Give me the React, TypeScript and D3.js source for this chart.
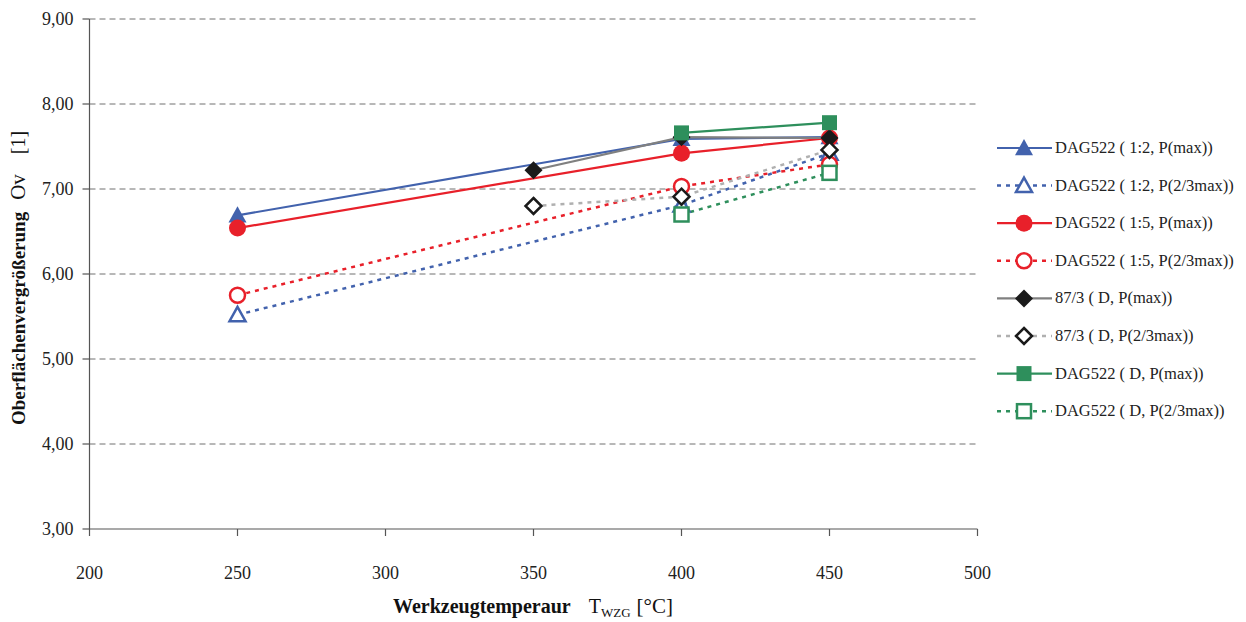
import React from "react";
import * as d3 from "d3";

const xTicks = [200, 250, 300, 350, 400, 450, 500];
const yTicks = [3, 4, 5, 6, 7, 8, 9];

const s1x = [250, 400, 450];
const s1y = [6.69, 7.59, 7.61];
const s2x = [250, 400, 450];
const s2y = [5.52, 6.81, 7.42];
const s3x = [250, 400, 450];
const s3y = [6.54, 7.42, 7.6];
const s4x = [250, 400, 450];
const s4y = [5.75, 7.03, 7.29];
const s5x = [350, 400, 450];
const s5y = [7.22, 7.61, 7.6];
const s6x = [350, 400, 450];
const s6y = [6.8, 6.91, 7.46];
const s7x = [400, 450];
const s7y = [7.66, 7.78];
const s8x = [400, 450];
const s8y = [6.7, 7.19];

const names = [
  "DAG522 ( 1:2, P(max))",
  "DAG522 ( 1:2, P(2/3max))",
  "DAG522 ( 1:5, P(max))",
  "DAG522 ( 1:5, P(2/3max))",
  "87/3 ( D, P(max))",
  "87/3 ( D, P(2/3max))",
  "DAG522 ( D, P(max))",
  "DAG522 ( D, P(2/3max))",
];

type Series = {
  name: string;
  xs: number[];
  ys: number[];
  color: string;
  markColor: string;
  dotted: boolean;
  marker: "tri" | "circle" | "diamond" | "square";
  filled: boolean;
};

const BLUE = "#4262ad";
const RED = "#e8202a";
const GRAY = "#808080";
const LGRAY = "#b0b0b0";
const BLACK = "#1a1a1a";
const GREEN = "#2e8f5c";

const series: Series[] = [
  { name: names[0], xs: s1x, ys: s1y, color: BLUE, markColor: BLUE, dotted: false, marker: "tri", filled: true },
  { name: names[1], xs: s2x, ys: s2y, color: BLUE, markColor: BLUE, dotted: true, marker: "tri", filled: false },
  { name: names[2], xs: s3x, ys: s3y, color: RED, markColor: RED, dotted: false, marker: "circle", filled: true },
  { name: names[3], xs: s4x, ys: s4y, color: RED, markColor: RED, dotted: true, marker: "circle", filled: false },
  { name: names[4], xs: s5x, ys: s5y, color: GRAY, markColor: BLACK, dotted: false, marker: "diamond", filled: true },
  { name: names[5], xs: s6x, ys: s6y, color: LGRAY, markColor: BLACK, dotted: true, marker: "diamond", filled: false },
  { name: names[6], xs: s7x, ys: s7y, color: GREEN, markColor: GREEN, dotted: false, marker: "square", filled: true },
  { name: names[7], xs: s8x, ys: s8y, color: GREEN, markColor: GREEN, dotted: true, marker: "square", filled: false },
];

const FONT = "Liberation Serif, Times New Roman, Times, DejaVu Serif, serif";

function Marker({ s, x, y }: { s: Series; x: number; y: number }) {
  const fill = s.filled ? s.markColor : "#fff";
  const sw = s.filled ? 0 : 2.5;
  const common = { fill, stroke: s.markColor, strokeWidth: sw };
  if (s.marker === "circle") return <circle cx={x} cy={y} r={s.filled ? 8.5 : 7.5} {...common} />;
  if (s.marker === "square") {
    const h = s.filled ? 7.5 : 7;
    return <rect x={x - h} y={y - h} width={2 * h} height={2 * h} {...common} />;
  }
  if (s.marker === "diamond") {
    const h = s.filled ? 9 : 8;
    return <path d={`M${x},${y - h}L${x + h},${y}L${x},${y + h}L${x - h},${y}Z`} {...common} />;
  }
  const h = s.filled ? 9 : 8;
  return <path d={`M${x},${y - h}L${x + h},${y + h * 0.8}L${x - h},${y + h * 0.8}Z`} {...common} />;
}

export default function App() {
  const x = d3.scaleLinear().domain([200, 500]).range([89.5, 977.5]);
  const y = d3.scaleLinear().domain([3, 9]).range([529, 19]);
  const line = d3
    .line<[number, number]>()
    .x((d) => x(d[0]))
    .y((d) => y(d[1]));

  const legX = 997;
  const legY0 = 148;
  const legStep = 37.6;

  return (
    <svg
      width={1246}
      height={622}
      style={{ position: "absolute", left: 0, top: 0, background: "#fff", fontFamily: FONT }}
    >
      <rect width={1246} height={622} fill="#fff" />
      {yTicks.slice(1).map((t) => (
        <line
          key={"g" + t}
          x1={x(200)}
          x2={x(500)}
          y1={y(t)}
          y2={y(t)}
          stroke="#707070"
          strokeWidth={1}
          strokeDasharray="6,4"
        />
      ))}
      <line x1={x(200)} x2={x(200)} y1={y(9)} y2={y(3)} stroke="#555" strokeWidth={1.2} />
      <line x1={x(200)} x2={x(500)} y1={y(3)} y2={y(3)} stroke="#555" strokeWidth={1.2} />
      {yTicks.map((t) => (
        <g key={"yt" + t}>
          <line x1={x(200) - 7} x2={x(200)} y1={y(t)} y2={y(t)} stroke="#555" strokeWidth={1.2} />
          <text x={x(200) - 16} y={y(t) + 5.5} textAnchor="end" fontSize={18} fill="#222" style={{ fontFamily: FONT }}>
            {d3.format(".2f")(t).replace(".", ",")}
          </text>
        </g>
      ))}
      {xTicks.map((t) => (
        <g key={"xt" + t}>
          <line x1={x(t)} x2={x(t)} y1={y(3)} y2={y(3) + 7} stroke="#555" strokeWidth={1.2} />
          <text x={x(t)} y={579} textAnchor="middle" fontSize={18} fill="#222" style={{ fontFamily: FONT }}>
            {t}
          </text>
        </g>
      ))}
      <text x={393} y={613} textAnchor="start" fontSize={20} fill="#111" style={{ fontFamily: FONT }}>
        <tspan fontWeight="bold">Werkzeugtemperaur</tspan>
        <tspan dx={18}>T</tspan>
        <tspan fontSize={13} dy={4}>WZG</tspan>
        <tspan dy={-4} dx={6} fontSize={21}>[°C]</tspan>
      </text>
      <text
        transform={`translate(25,425) rotate(-90)`}
        textAnchor="start"
        fontSize={19}
        fill="#111"
        style={{ fontFamily: FONT }}
      >
        <tspan fontWeight="bold">Oberflächenvergrößerung</tspan>
        <tspan dx={12} fontSize={21}>Ov</tspan>
        <tspan dx={20} fontSize={20}>[1]</tspan>
      </text>
      {series.map((s, i) => (
        <path
          key={"l" + i}
          d={line(s.xs.map((v, j) => [v, s.ys[j]] as [number, number])) || ""}
          fill="none"
          stroke={s.color}
          strokeWidth={s.dotted ? 2.5 : 2.2}
          strokeDasharray={s.dotted ? "4,5" : undefined}
        />
      ))}
      {series.map((s, i) => (
        <g key={"m" + i}>
          {s.xs.map((v, j) => (
            <Marker key={j} s={s} x={x(v)} y={y(s.ys[j])} />
          ))}
        </g>
      ))}
      {series.map((s, i) => {
        const ly = legY0 + i * legStep;
        return (
          <g key={"lg" + i}>
            <line
              x1={legX}
              x2={legX + 55}
              y1={ly}
              y2={ly}
              stroke={s.color}
              strokeWidth={s.dotted ? 2.5 : 2.2}
              strokeDasharray={s.dotted ? "4,5" : undefined}
            />
            <Marker s={s} x={legX + 27} y={ly} />
            <text x={legX + 58} y={ly + 5} fontSize={16.5} fill="#222" style={{ fontFamily: FONT }}>
              {s.name}
            </text>
          </g>
        );
      })}
    </svg>
  );
}
